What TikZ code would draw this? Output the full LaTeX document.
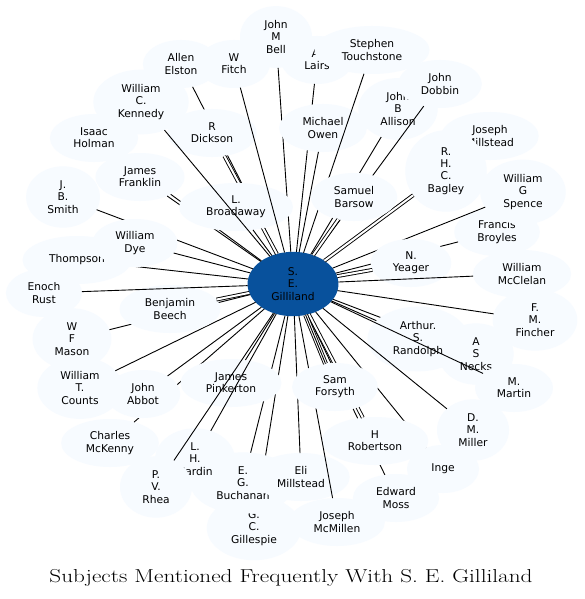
\documentclass[tikz,border=0pt]{standalone}
\usepackage{fontspec}
\usepackage{graphicx}
\newfontfamily\dvs{DejaVu Sans}
\usetikzlibrary{shapes.geometric}
\definecolor{nodefill}{HTML}{F7FBFF}
\definecolor{centerfill}{HTML}{08519C}
\newcommand\gnode[4][edge]{\node[nd] (#2) at #3 {#4}; \draw[#1] (c) -- (#2);}
\begin{document}
\begin{tikzpicture}[x=1pt,y=-1pt,
  nd/.style={ellipse, fill=nodefill, inner xsep=10.5pt, inner ysep=5.5pt, minimum width=72pt, minimum height=48pt, align=center, font=\dvs\fontsize{10.7}{12.2}\selectfont, outer sep=0pt},
  ctr/.style={nd, fill=centerfill, inner ysep=6.5pt},
  edge/.style={draw=black, line width=0.9pt},
  dbl/.style={edge, double=white, double distance=2pt},
  ]
\useasboundingbox[fill=white] (0,0) rectangle (584,599);
\node[ctr] (c) at (293,284) {S.\\E.\\Gilliland};
\gnode{holman}{(94,138)}{Isaac\\Holman}
\gnode{franklin}{(140,177)}{James\\Franklin}
\gnode{elston}{(181,64)}{Allen\\Elston}
\gnode[dbl]{dickson}{(212,133)}{R\\Dickson}
\gnode{lairs}{(317,60)}{A.\\Lairs}
\gnode{bell}{(276,37)}{John\\M\\Bell}
\gnode{broadaway}{(236,207)}{L.\\Broadaway}
\gnode{fitch}{(234,64)}{W\\Fitch}
\gnode{kennedy}{(141,102)}{William\\C.\\Kennedy}
\gnode{owen}{(323,128)}{Michael\\Owen}
\gnode{stephen}{(372,50)}{Stephen\\Touchstone}
\gnode{allison}{(398,109)}{John\\B\\Allison}
\gnode{dobbin}{(440,84)}{John\\Dobbin}
\gnode{jmill}{(490,136)}{Joseph\\Millstead}
\gnode[dbl]{bagley}{(446,171)}{R.\\H.\\C.\\Bagley}
\gnode[dbl]{barsow}{(354,197)}{Samuel\\Barsow}
\gnode{broyles}{(497,232)}{Francis\\Broyles}
\gnode{spence}{(523,192)}{William\\G\\Spence}
\gnode[dbl]{yeager}{(411,263)}{N.\\Yeager}
\gnode{mcclelan}{(522,274)}{William\\McClelan}
\gnode{fincher}{(535,320)}{F.\\M.\\Fincher}
\gnode{necks}{(476,354)}{A\\S\\Necks}
\gnode{randolph}{(418,339)}{Arthur.\\S.\\Randolph}
\gnode{martin}{(514,388)}{M.\\Martin}
\gnode{miller}{(473,430)}{D.\\M.\\Miller}
\gnode{inge}{(443,469)}{Inge}
\gnode{moss}{(396,498)}{Edward\\Moss}
\gnode[dbl]{robertson}{(375,441)}{H\\Robertson}
\gnode{gillespie}{(254,528)}{G.\\C.\\Gillespie}
\gnode{buchanan}{(243,483)}{E.\\G.\\Buchanan}
\gnode{elimill}{(301,477)}{Eli\\Millstead}
\gnode{mcmillen}{(337,522)}{Joseph\\McMillen}
\node[nd] (forsyth) at (335,387) {Sam\\Forsyth};
\draw[dbl, double distance=3pt] (c) -- (forsyth);
\draw[edge] (c) -- (forsyth);
\gnode{mckenny}{(110,443)}{Charles\\McKenny}
\gnode{pinkerton}{(231,383)}{James\\Pinkerton}
\gnode{hardin}{(195,459)}{L.\\H.\\Hardin}
\gnode{rhea}{(156,487)}{P.\\V.\\Rhea}
\gnode{abbot}{(143,394)}{John\\Abbot}
\gnode{mason}{(72,339)}{W\\F\\Mason}
\gnode{counts}{(80,388)}{William\\T.\\Counts}
\gnode[dbl]{beech}{(170,309)}{Benjamin\\Beech}
\gnode{rust}{(44,293)}{Enoch\\Rust}
\gnode{thompson}{(77,260)}{Thompson}
\gnode{smith}{(63,197)}{J.\\B.\\Smith}
\gnode{dye}{(135,243)}{William\\Dye}
\node[font=\fontsize{18.7}{22}\selectfont] (title) at (291,578) {\scalebox{1.24}[1]{Subjects Mentioned Frequently With S. E. Gilliland}};
\end{tikzpicture}
\end{document}
